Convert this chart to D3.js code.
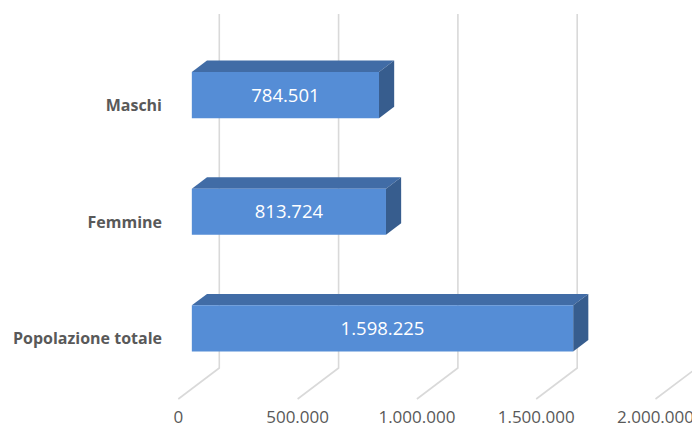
<!DOCTYPE html>
<html><head><meta charset="utf-8">
<script src="https://cdn.jsdelivr.net/npm/d3@7/dist/d3.min.js"></script>
<style>html,body{margin:0;padding:0;background:#fff;}svg{display:block;}</style>
</head><body>
<script>
const categories = ["Maschi", "Femmine", "Popolazione totale"];
const values = [784501, 813724, 1598225];
const tickValues = [0, 500000, 1000000, 1500000, 2000000];
const tickLabels = ["0", "500.000", "1.000.000", "1.500.000", "2.000.000"];
const valueLabels = ["784.501", "813.724", "1.598.225"];

const W = 692, H = 428;
const svg = d3.select("body").append("svg").attr("width", W).attr("height", H);

const x = d3.scaleLinear().domain([0, 2000000]).range([178.3, 655.5]);
const y = d3.scaleBand().domain(categories).range([45, 399]).paddingInner(0.605).paddingOuter(0.32);
const DX = 41, DY = 31;           // depth offset of full floor
const d0 = 0.33, d1 = 0.70;       // bar depth range
const P = (v, yy, d) => [x(v) + d * DX, yy - d * DY];
const floorY = 399, wallTop = 14;

// gridlines: back wall verticals + floor diagonals
const grid = svg.append("g").attr("stroke", "#d9d9d9").attr("stroke-width", 1.6).attr("fill", "none");
tickValues.forEach(t => {
  const back = P(t, floorY, 1), front = P(t, floorY, 0);
  grid.append("path").attr("d", `M${back[0]},${wallTop}L${back[0]},${back[1]}L${front[0]},${front[1]}`);
});

// bars
const bars = svg.append("g");
categories.forEach((c, i) => {
  const v = values[i];
  const top = y(c), bot = y(c) + y.bandwidth();
  const fTL = P(0, top, d0), fTR = P(v, top, d0), fBR = P(v, bot, d0), fBL = P(0, bot, d0);
  const bTL = P(0, top, d1), bTR = P(v, top, d1), bBR = P(v, bot, d1);
  const poly = pts => "M" + pts.map(p => p.join(",")).join("L") + "Z";
  bars.append("path").attr("d", poly([fTL, bTL, bTR, fTR])).attr("fill", "#416ca6");
  bars.append("path").attr("d", poly([fTR, bTR, bBR, fBR])).attr("fill", "#375d8e");
  bars.append("path").attr("d", poly([fTL, fTR, fBR, fBL])).attr("fill", "#558dd6");
  const cx = (fTL[0] + fTR[0]) / 2, cy = (fTL[1] + fBL[1]) / 2;
  bars.append("text").attr("x", cx).attr("y", cy).attr("dy", "0.36em")
    .attr("text-anchor", "middle").attr("fill", "#fff")
    .attr("font-family", "Open Sans").attr("font-size", 18.5).text(valueLabels[i]);
});

// category labels
svg.append("g").selectAll("text").data(categories).join("text")
  .attr("x", 162).attr("y", d => y(d) + y.bandwidth() / 2).attr("dy", "0.36em")
  .attr("text-anchor", "end").attr("fill", "#595959")
  .attr("font-family", "Open Sans").attr("font-weight", 700).attr("font-size", 16)
  .text(d => d);

// tick labels
svg.append("g").selectAll("text").data(tickValues).join("text")
  .attr("x", d => x(d)).attr("y", 423)
  .attr("text-anchor", "middle").attr("fill", "#595959")
  .attr("font-family", "Open Sans").attr("font-size", 17)
  .text((d, i) => tickLabels[i]);
</script>
</body></html>
